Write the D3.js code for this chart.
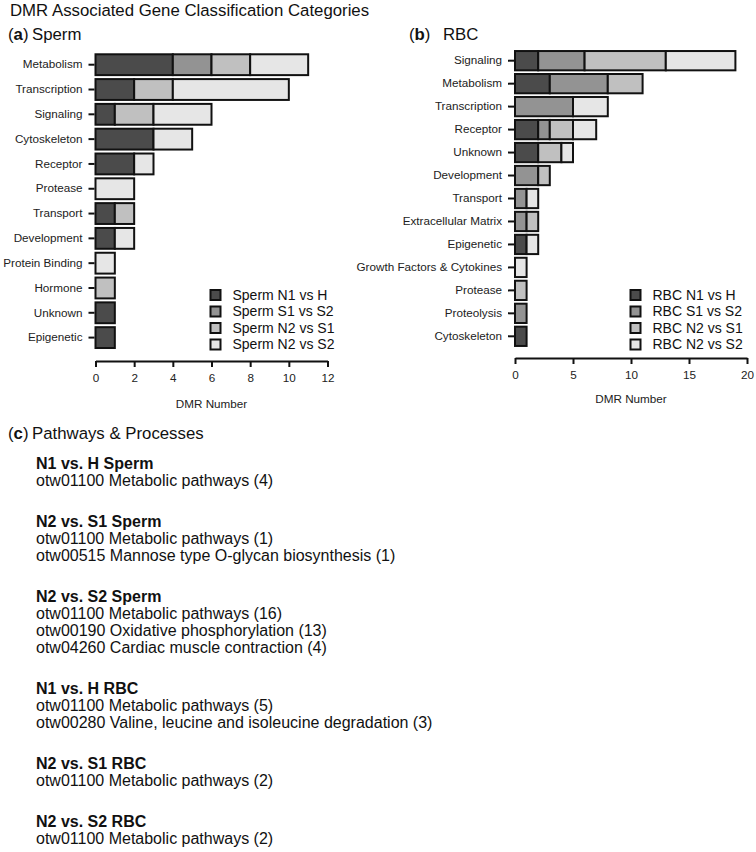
<!DOCTYPE html>
<html>
<head>
<meta charset="utf-8">
<script src="https://cdn.jsdelivr.net/npm/d3@7"></script>
<style>
body { margin: 0; background: #fff; }
svg { display: block; font-family: 'Liberation Sans', Arial, Helvetica, sans-serif; }
.axis path, .axis line { stroke: #111; stroke-width: 2; }
.axis text { fill: #222; font-size: 11.7px; }
.axis-label { fill: #222; font-size: 11.7px; }
.legend text { fill: #111; font-size: 14px; }
.heading { fill: #111; font-size: 16.8px; }
.pathways text { fill: #111; font-size: 16px; }
</style>
</head>
<body>
<svg width="756" height="852"></svg>
<script>
'use strict';

var seriesKeys = ['N1 vs H', 'S1 vs S2', 'N2 vs S1', 'N2 vs S2'];
var seriesColors = ['#4b4b4b', '#939393', '#c0c0c0', '#e6e6e6'];

var spermCategories = ['Metabolism', 'Transcription', 'Signaling', 'Cytoskeleton', 'Receptor', 'Protease',
  'Transport', 'Development', 'Protein Binding', 'Hormone', 'Unknown', 'Epigenetic'];
var spermN1H  = [4, 2, 1, 3, 2, 0, 1, 1, 0, 0, 1, 1];
var spermS1S2 = [2, 0, 0, 0, 0, 0, 0, 0, 0, 0, 0, 0];
var spermN2S1 = [2, 2, 2, 0, 0, 0, 1, 0, 0, 1, 0, 0];
var spermN2S2 = [3, 6, 3, 2, 1, 2, 0, 1, 1, 0, 0, 0];
var spermTicks = [0, 2, 4, 6, 8, 10, 12];

var rbcCategories = ['Signaling', 'Metabolism', 'Transcription', 'Receptor', 'Unknown', 'Development',
  'Transport', 'Extracellular Matrix', 'Epigenetic', 'Growth Factors & Cytokines', 'Protease',
  'Proteolysis', 'Cytoskeleton'];
var rbcN1H  = [2, 3, 0, 2, 2, 0, 0, 0, 1, 0, 0, 0, 1];
var rbcS1S2 = [4, 5, 5, 1, 0, 2, 1, 1, 0, 0, 0, 1, 0];
var rbcN2S1 = [7, 3, 0, 2, 2, 1, 0, 1, 0, 0, 1, 0, 0];
var rbcN2S2 = [6, 0, 3, 2, 1, 0, 1, 0, 1, 1, 0, 0, 0];
var rbcTicks = [0, 5, 10, 15, 20];

var pathwayGroups = ['N1 vs. H Sperm', 'N2 vs. S1 Sperm', 'N2 vs. S2 Sperm',
  'N1 vs. H RBC', 'N2 vs. S1 RBC', 'N2 vs. S2 RBC'];
var pathwayLines = [
  ['otw01100 Metabolic pathways (4)'],
  ['otw01100 Metabolic pathways (1)', 'otw00515 Mannose type O-glycan biosynthesis (1)'],
  ['otw01100 Metabolic pathways (16)', 'otw00190 Oxidative phosphorylation (13)', 'otw04260 Cardiac muscle contraction (4)'],
  ['otw01100 Metabolic pathways (5)', 'otw00280 Valine, leucine and isoleucine degradation (3)'],
  ['otw01100 Metabolic pathways (2)'],
  ['otw01100 Metabolic pathways (2)']
];

var svg = d3.select('svg');

// headings
svg.append('text').attr('class', 'heading').attr('x', 10).attr('y', 16)
  .text('DMR Associated Gene Classification Categories');
panelLabel(8, 40, 'a', 'Sperm', 32);
panelLabel(409, 40, 'b', 'RBC', 443);
panelLabel(8, 439, 'c', 'Pathways & Processes', 32);

drawPanel({
  categories: spermCategories,
  values: [spermN1H, spermS1S2, spermN2S1, spermN2S2],
  domain: [0, 12], ticks: spermTicks,
  xRange: [95.5, 327.5], yRange: [52.3, 350], axisY: 361, labelY: 408,
  legendX: 210.5, prefix: 'Sperm '
});

drawPanel({
  categories: rbcCategories,
  values: [rbcN1H, rbcS1S2, rbcN2S1, rbcN2S2],
  domain: [0, 20], ticks: rbcTicks,
  xRange: [515, 747], yRange: [49.2, 347.8], axisY: 358, labelY: 403,
  legendX: 630.5, prefix: 'RBC '
});

drawPathways();

function panelLabel(x, y, letter, title, titleX) {
  var t = svg.append('text').attr('class', 'heading').attr('x', x).attr('y', y);
  t.append('tspan').text('(');
  t.append('tspan').attr('font-weight', 'bold').text(letter);
  t.append('tspan').text(')');
  svg.append('text').attr('class', 'heading').attr('x', titleX).attr('y', y).text(title);
}

function drawPanel(cfg) {
  var rows = cfg.categories.map(function (c, i) {
    var row = { category: c };
    seriesKeys.forEach(function (k, j) { row[k] = cfg.values[j][i]; });
    return row;
  });
  var stacked = d3.stack().keys(seriesKeys)(rows);

  var x = d3.scaleLinear().domain(cfg.domain).range(cfg.xRange);
  var y = d3.scaleBand().domain(cfg.categories).range(cfg.yRange)
    .paddingInner(0.16).paddingOuter(0.08);

  var g = svg.append('g');

  g.selectAll('g.layer').data(stacked).enter().append('g')
    .attr('class', 'layer')
    .attr('fill', function (d, i) { return seriesColors[i]; })
    .selectAll('rect')
    .data(function (d) { return d.filter(function (s) { return s[1] > s[0]; }); })
    .enter().append('rect')
    .attr('x', function (d) { return x(d[0]); })
    .attr('width', function (d) { return x(d[1]) - x(d[0]); })
    .attr('y', function (d) { return y(d.data.category); })
    .attr('height', y.bandwidth())
    .attr('stroke', '#111')
    .attr('stroke-width', 2);

  var yAxis = d3.axisLeft(y).tickSize(6).tickPadding(6);
  var ya = g.append('g').attr('class', 'axis')
    .attr('transform', 'translate(' + (cfg.xRange[0] - 1) + ',0)').call(yAxis);
  ya.select('.domain').remove();

  var xAxis = d3.axisBottom(x).tickValues(cfg.ticks).tickSize(6).tickPadding(7).tickSizeOuter(0);
  g.append('g').attr('class', 'axis')
    .attr('transform', 'translate(0,' + cfg.axisY + ')').call(xAxis);

  g.append('text').attr('class', 'axis-label')
    .attr('x', (cfg.xRange[0] + cfg.xRange[1]) / 2).attr('y', cfg.labelY)
    .attr('text-anchor', 'middle').text('DMR Number');

  var legend = g.append('g').attr('class', 'legend');
  var item = legend.selectAll('g').data(seriesKeys).enter().append('g')
    .attr('transform', function (d, i) { return 'translate(' + cfg.legendX + ',' + (295 + i * 16.5) + ')'; });
  item.append('rect').attr('x', 0).attr('y', -5).attr('width', 10).attr('height', 10)
    .attr('fill', function (d, i) { return seriesColors[i]; })
    .attr('stroke', '#111').attr('stroke-width', 2);
  item.append('text').attr('x', 22).attr('dy', '0.35em')
    .text(function (d) { return cfg.prefix + d; });
}

function drawPathways() {
  var lineH = 17, gap = 24;
  var g = svg.append('g').attr('class', 'pathways');
  var yPos = 469;
  pathwayGroups.forEach(function (head, i) {
    g.append('text').attr('x', 36).attr('y', yPos).attr('font-weight', 'bold').text(head);
    pathwayLines[i].forEach(function (line, j) {
      g.append('text').attr('x', 36).attr('y', yPos + (j + 1) * lineH).text(line);
    });
    yPos += (pathwayLines[i].length + 1) * lineH + gap;
  });
}
</script>
</body>
</html>
